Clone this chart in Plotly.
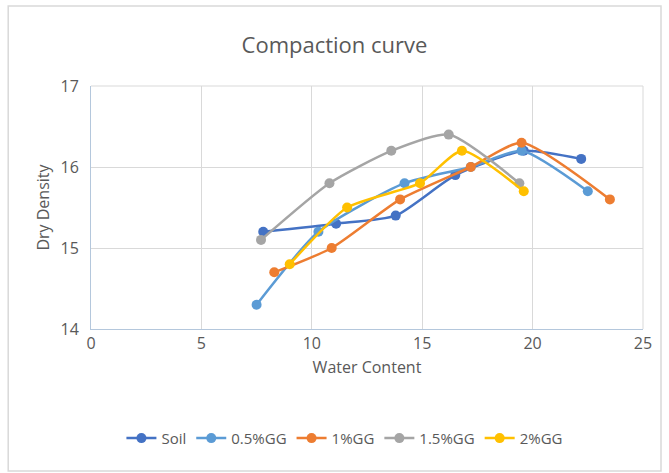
import plotly.graph_objects as go

series_names = ["Soil", "0.5%GG", "1%GG", "1.5%GG", "2%GG"]
soil_x = [7.8, 11.1, 13.8, 16.5, 19.6, 22.2]
soil_y = [15.2, 15.3, 15.4, 15.9, 16.2, 16.1]
gg05_x = [7.5, 10.3, 14.2, 17.2, 19.5, 22.5]
gg05_y = [14.3, 15.2, 15.8, 16.0, 16.2, 15.7]
gg1_x = [8.3, 10.9, 14.0, 17.2, 19.5, 23.5]
gg1_y = [14.7, 15.0, 15.6, 16.0, 16.3, 15.6]
gg15_x = [7.7, 10.8, 13.6, 16.2, 19.4]
gg15_y = [15.1, 15.8, 16.2, 16.4, 15.8]
gg2_x = [9.0, 11.6, 14.9, 16.8, 19.6]
gg2_y = [14.8, 15.5, 15.8, 16.2, 15.7]
colors = ["#4472C4", "#5B9BD5", "#ED7D31", "#A5A5A5", "#FFC000"]

xs = [soil_x, gg05_x, gg1_x, gg15_x, gg2_x]
ys = [soil_y, gg05_y, gg1_y, gg15_y, gg2_y]

FONT = "'Open Sans', sans-serif"
GRAY = "#595959"

fig = go.Figure()
for name, x, y, c in zip(series_names, xs, ys, colors):
    fig.add_trace(go.Scatter(
        x=x, y=y, name=name, mode="lines+markers",
        line=dict(color=c, width=2.5, shape="spline", smoothing=0.6),
        marker=dict(color=c, size=10),
    ))

fig.update_layout(
    width=669, height=473,
    margin=dict(l=91, r=26, t=86, b=144),
    paper_bgcolor="white", plot_bgcolor="white",
    font=dict(family=FONT, color=GRAY, size=15),
    title=dict(text="Compaction curve", x=0.5, xanchor="center",
               y=1 - 45 / 473, yanchor="middle",
               font=dict(size=22, color=GRAY, family=FONT)),
    showlegend=True,
    legend=dict(orientation="h", x=0.46, xanchor="center", y=-0.45, yanchor="middle",
                font=dict(size=15, color=GRAY), tracegroupgap=0),
    xaxis=dict(range=[0, 25], dtick=5, showgrid=True, gridcolor="#D9D9D9", gridwidth=1,
               zeroline=False, showline=True, linecolor="#B4C7DC", linewidth=1,
               ticks="", tickfont=dict(size=16, color=GRAY),
               title=dict(text="Water Content", font=dict(size=16, color=GRAY), standoff=8)),
    yaxis=dict(range=[14, 17], dtick=1, showgrid=True, gridcolor="#D9D9D9", gridwidth=1,
               zeroline=False, showline=True, linecolor="#B4C7DC", linewidth=1,
               ticks="", tickfont=dict(size=16, color=GRAY), ticklabelstandoff=8,
               title=dict(text="Dry Density", font=dict(size=16, color=GRAY), standoff=6)),
    shapes=[dict(type="rect", xref="paper", yref="paper",
                 x0=-0.150, x1=1.0326, y0=-0.584, y1=1.329,
                 line=dict(color="#D9D9D9", width=1.5), fillcolor="rgba(0,0,0,0)", layer="below"),
            dict(type="line", xref="paper", yref="paper", x0=1, x1=1, y0=0, y1=1,
                 line=dict(color="#D9D9D9", width=1)),
            dict(type="line", xref="paper", yref="paper", x0=0, x1=1, y0=1, y1=1,
                 line=dict(color="#D9D9D9", width=1))],
)

fig.write_html("out.html")
